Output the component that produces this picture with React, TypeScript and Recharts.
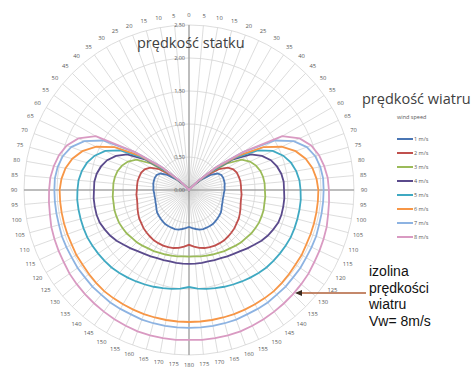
import React from "react";
import {
  RadarChart,
  Radar,
  PolarGrid,
  PolarAngleAxis,
  PolarRadiusAxis,
  Legend,
} from "recharts";

// course angle to the wind, 0 (upwind) .. 180 (downwind); the left half mirrors the right
const halfAngles = [
  0, 5, 10, 15, 20, 25, 30, 35, 40, 45, 50, 55, 60, 65, 70, 75, 80, 85, 90,
  95, 100, 105, 110, 115, 120, 125, 130, 135, 140, 145, 150, 155, 160, 165, 170, 175, 180,
];

// boat speed for each wind speed, read at the angles above
const speed1 = [0, 0, 0, 0, 0, 0, 0, 0, 0.03, 0.1, 0.25, 0.4, 0.5, 0.54, 0.55, 0.55, 0.55, 0.54, 0.54, 0.53, 0.53, 0.53, 0.54, 0.55, 0.57, 0.59, 0.6, 0.61, 0.62, 0.63, 0.63, 0.63, 0.63, 0.62, 0.6, 0.58, 0.56];
const speed2 = [0, 0, 0, 0, 0, 0, 0, 0, 0.03, 0.12, 0.35, 0.55, 0.68, 0.74, 0.77, 0.78, 0.79, 0.79, 0.79, 0.8, 0.8, 0.81, 0.83, 0.85, 0.87, 0.88, 0.9, 0.91, 0.92, 0.93, 0.93, 0.93, 0.92, 0.91, 0.89, 0.86, 0.83];
const speed3 = [0, 0, 0, 0, 0, 0, 0, 0, 0.03, 0.12, 0.4, 0.7, 0.92, 1.02, 1.08, 1.12, 1.14, 1.15, 1.15, 1.16, 1.16, 1.17, 1.17, 1.17, 1.16, 1.15, 1.13, 1.12, 1.1, 1.08, 1.07, 1.05, 1.04, 1.03, 1.02, 1.01, 1.01];
const speed4 = [0, 0, 0, 0, 0, 0, 0, 0, 0.03, 0.15, 0.45, 0.8, 1.08, 1.22, 1.32, 1.38, 1.42, 1.44, 1.44, 1.45, 1.45, 1.45, 1.44, 1.41, 1.38, 1.34, 1.29, 1.25, 1.21, 1.18, 1.16, 1.14, 1.13, 1.12, 1.12, 1.12, 1.12];
const speed5 = [0, 0, 0, 0, 0, 0, 0, 0, 0.03, 0.15, 0.45, 0.85, 1.2, 1.4, 1.52, 1.6, 1.65, 1.68, 1.69, 1.7, 1.7, 1.7, 1.7, 1.7, 1.69, 1.68, 1.67, 1.66, 1.64, 1.62, 1.6, 1.58, 1.56, 1.54, 1.52, 1.5, 1.47];
const speed6 = [0, 0, 0, 0, 0, 0, 0, 0, 0.03, 0.18, 0.5, 0.9, 1.3, 1.55, 1.72, 1.83, 1.9, 1.94, 1.96, 1.96, 1.96, 1.96, 1.96, 1.96, 1.97, 1.97, 1.98, 1.99, 2.0, 2.0, 2.0, 2.0, 2.0, 2.0, 2.0, 2.0, 2.0];
const speed7 = [0, 0, 0, 0, 0, 0, 0, 0, 0.03, 0.2, 0.55, 1.0, 1.5, 1.75, 1.9, 1.98, 2.02, 2.04, 2.04, 2.04, 2.04, 2.04, 2.05, 2.05, 2.05, 2.06, 2.06, 2.07, 2.07, 2.08, 2.08, 2.08, 2.09, 2.09, 2.09, 2.09, 2.09];
const speed8 = [0, 0, 0, 0, 0, 0, 0, 0, 0.03, 0.2, 0.55, 1.0, 1.63, 1.85, 1.97, 2.04, 2.08, 2.11, 2.12, 2.13, 2.14, 2.16, 2.17, 2.18, 2.19, 2.21, 2.22, 2.23, 2.24, 2.25, 2.26, 2.27, 2.28, 2.28, 2.28, 2.28, 2.27];

const windNames = ["1 m/s", "2 m/s", "3 m/s", "4 m/s", "5 m/s", "6 m/s", "7 m/s", "8 m/s"];
const windColors = ["#4a76b4", "#c0504d", "#9bbb59", "#5a4a8c", "#3fa9c2", "#f79646", "#8db3e2", "#d99ac2"];
const speeds = [speed1, speed2, speed3, speed4, speed5, speed6, speed7, speed8];
const radiusTicks = [0, 0.5, 1, 1.5, 2, 2.5];

const CX = 189;
const CY = 190;
const OUTER = 165;

// 0..180 clockwise on the right, then 185..355 on the left (labelled 175..5)
const fullAngles = [
  ...halfAngles,
  ...halfAngles.slice(1, -1).reverse().map((a) => 360 - a),
];
const chartData = fullAngles.map((deg, i) => {
  const k = i < halfAngles.length ? i : fullAngles.length - i;
  const row: Record<string, number> = { deg };
  speeds.forEach((s, j) => {
    row[`v${j + 1}`] = s[k];
  });
  return row;
});

function AngleTick(props: any) {
  const { payload } = props;
  const a = (-payload.coordinate * Math.PI) / 180;
  const r = OUTER + 10;
  const deg = payload.value > 180 ? 360 - payload.value : payload.value;
  return (
    <text
      x={CX + r * Math.cos(a)}
      y={CY + r * Math.sin(a)}
      textAnchor="middle"
      dominantBaseline="central"
      fontSize={5.8}
      fill="#595959"
      fontFamily="Open Sans, sans-serif"
    >
      {deg}
    </text>
  );
}

function RadiusTick(props: any) {
  const { x, y, payload } = props;
  return (
    <text
      x={x - 4}
      y={y}
      textAnchor="end"
      dominantBaseline="central"
      fontSize={5.5}
      fill="#595959"
      fontFamily="Open Sans, sans-serif"
    >
      {Number(payload.value).toFixed(2).replace(".", ",")}
    </text>
  );
}

function WindLegend({ payload }: any) {
  return (
    <div style={{ fontFamily: "Open Sans, sans-serif", fontSize: 5.5, color: "#595959" }}>
      <div style={{ marginBottom: 11 }}>wind speed</div>
      {(payload ?? []).map((p: any) => (
        <div key={p.value} style={{ display: "flex", alignItems: "center", height: 14 }}>
          <span style={{ display: "inline-block", width: 16, height: 2, background: p.color, marginRight: 1 }} />
          <span>{p.value}</span>
        </div>
      ))}
    </div>
  );
}

export default function App() {
  return (
    <div style={{ position: "absolute", left: 0, top: 0, width: 474, height: 370, background: "#fff" }}>
      <RadarChart
        width={474}
        height={370}
        data={chartData}
        cx={CX}
        cy={CY}
        outerRadius={OUTER}
        margin={{ top: 0, right: 0, bottom: 0, left: 0 }}
      >
        <PolarGrid gridType="circle" stroke="#d4d4d4" strokeWidth={0.8} />
        <PolarGrid gridType="circle" polarAngles={[0, 90, 180, 270]} polarRadius={[]} stroke="#8c8c8c" strokeWidth={1} />
        <PolarAngleAxis dataKey="deg" tick={<AngleTick />} tickLine={false} axisLine={false} />
        <PolarRadiusAxis
          angle={90}
          type="number"
          domain={[0, 2.5]}
          ticks={radiusTicks as any}
          tickCount={6}
          allowDecimals
          axisLine={false}
          tick={<RadiusTick />}
        />
        {speeds.map((_, j) => (
          <Radar
            key={j}
            name={windNames[j]}
            dataKey={`v${j + 1}`}
            stroke={windColors[j]}
            strokeWidth={1.8}
            fill="none"
            fillOpacity={0}
            dot={false}
            isAnimationActive={false}
          />
        ))}
        <Legend
          content={<WindLegend />}
          wrapperStyle={{ position: "absolute", left: 397, top: 113, width: 60 }}
        />
      </RadarChart>

      <div style={{ position: "absolute", left: 137, top: 33, lineHeight: "19px", fontFamily: "Open Sans, sans-serif", fontSize: 14.5, color: "#404040", whiteSpace: "nowrap" }}>
        prędkość statku
      </div>
      <div style={{ position: "absolute", left: 362, top: 89, lineHeight: "19px", fontFamily: "Open Sans, sans-serif", fontSize: 14.5, color: "#404040", whiteSpace: "nowrap" }}>
        prędkość wiatru
      </div>

      <div style={{ position: "absolute", left: 369, top: 263, fontFamily: "Liberation Sans, Arial, sans-serif", fontSize: 14, lineHeight: "16.5px", color: "#111" }}>
        izolina
        <br />
        prędkości
        <br />
        wiatru
        <br />
        Vw= 8m/s
      </div>
      <svg style={{ position: "absolute", left: 0, top: 0 }} width={474} height={370}>
        <line x1={366} y1={293} x2={300} y2={293} stroke="#b0603a" strokeWidth={1.6} />
        <polygon points="295,293 302,290 302,296" fill="#3a2a20" />
      </svg>
    </div>
  );
}
